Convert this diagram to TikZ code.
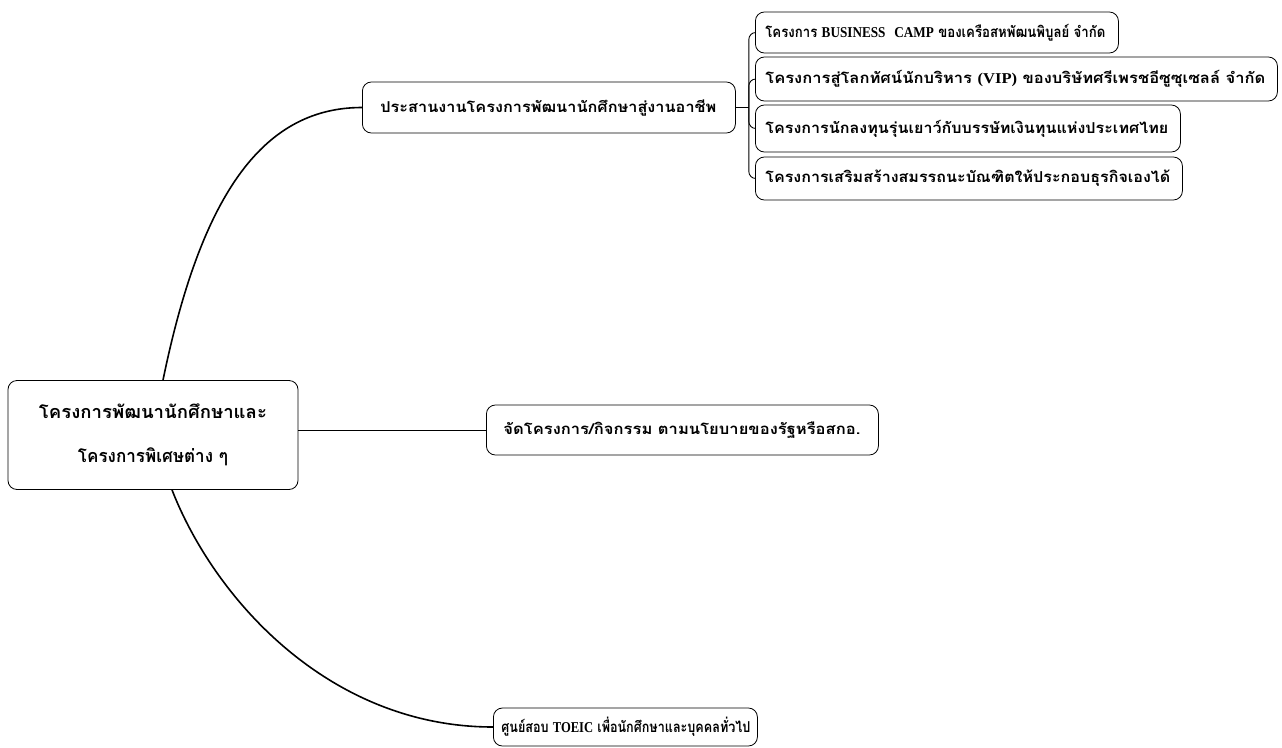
\documentclass[tikz,border=0pt]{standalone}
\usepackage{fontspec}
\newfontfamily\thai[Script=Thai]{Loma}
\newfontfamily\lat{Liberation Serif}
\newcommand{\fitw}[2]{\resizebox{#1}{\height}{#2}}
\begin{document}
\begin{tikzpicture}[x=1pt,y=-1pt,
  box/.style={draw,rounded corners=9pt,line width=0.8pt,inner ysep=0pt,font=\thai\bfseries\fontsize{15}{17}\selectfont},
  lbox/.style={box,anchor=west,align=left},
  link/.style={line width=1.6pt},
  thin/.style={line width=0.9pt}]
\useasboundingbox (0,0) rectangle (1282,747);
% central node
\node[box,minimum width=290pt,minimum height=109pt,align=center,inner xsep=0pt,font=\thai\bfseries\fontsize{18}{44}\selectfont] (c) at (153,435) {\fitw{228pt}{โครงการพัฒนานักศึกษาและ}\\\fitw{150pt}{โครงการพิเศษต่าง ๆ}};
% branches
\node[lbox,inner xsep=18pt,text width=337pt,minimum height=51pt] (b1) at (362,107.5) {\fitw{336pt}{ประสานงานโครงการพัฒนานักศึกษาสู่งานอาชีพ}};
\node[lbox,inner xsep=17pt,text width=358pt,minimum height=50pt] (b2) at (486,430) {\fitw{357pt}{จัดโครงการ/กิจกรรม ตามนโยบายของรัฐหรือสกอ.}};
\node[lbox,inner xsep=8pt,text width=248pt,minimum height=38pt] (b3) at (493,727) {\fitw{249pt}{ศูนย์สอบ {\lat TOEIC} เพื่อนักศึกษาและบุคคลทั่วไป}};
% leaves
\node[lbox,inner xsep=10pt,text width=343pt,minimum height=41pt] (l1) at (755,32.5) {\fitw{340pt}{โครงการ {\lat BUSINESS~~CAMP} ของเครือสหพัฒนพิบูลย์ จำกัด}};
\node[lbox,inner xsep=10pt,text width=502pt,minimum height=44pt] (l2) at (755,79) {\fitw{500pt}{โครงการสู่โลกทัศน์นักบริหาร {\lat (VIP)} ของบริษัทศรีเพรชอีซูซุเซลล์ จำกัด}};
\node[lbox,inner xsep=10pt,text width=405pt,minimum height=47pt] (l3) at (755,128.5) {\fitw{403pt}{โครงการนักลงทุนรุ่นเยาว์กับบรรษัทเงินทุนแห่งประเทศไทย}};
\node[lbox,inner xsep=10pt,text width=407pt,minimum height=43pt] (l4) at (755,178.5) {\fitw{405pt}{โครงการเสริมสร้างสมรรถนะบัณฑิตให้ประกอบธุรกิจเองได้}};
% connectors
\draw[link] ([xshift=10pt]c.north) .. controls (200,200) and (260,107.5) .. (b1.west);
\draw[link] ([xshift=19pt]c.south) .. controls (215,600) and (330,727) .. (b3.west);
\draw[thin] (c.east |- b2.west) -- (b2.west);
\coordinate (j) at ([xshift=13pt]b1.east);
\draw[thin] (b1.east) -- (j);
\foreach \l in {l1,l2,l3,l4}{\draw[thin,rounded corners=7pt] (j) |- (\l.west);}
\end{tikzpicture}
\end{document}
